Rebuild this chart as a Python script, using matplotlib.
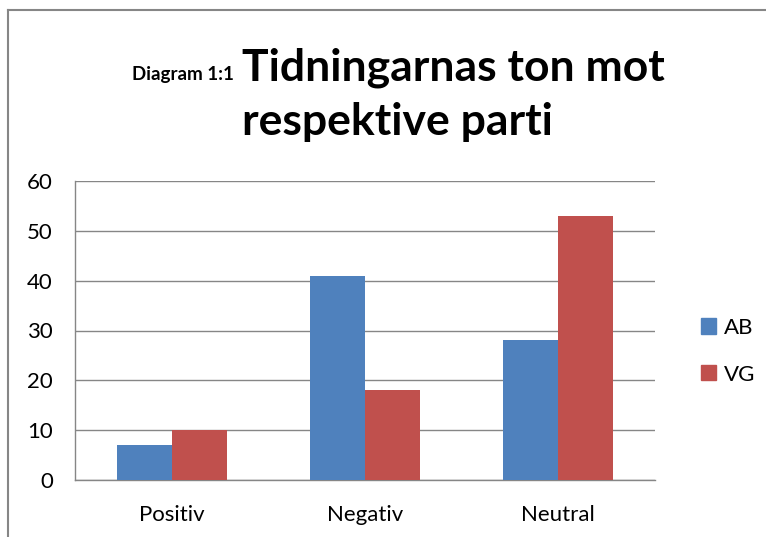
import numpy as np
import matplotlib
matplotlib.use("Agg")
import matplotlib.pyplot as plt
from matplotlib.lines import Line2D
from matplotlib.patches import Patch

plt.rcParams['font.family'] = ['Lato', 'DejaVu Sans']

# data
kategorier = ['Positiv', 'Negativ', 'Neutral']
ab = [7, 41, 28]
vg = [10, 18, 53]
serier = ['AB', 'VG']
farger = ['#4F81BD', '#C0504D']
yticks = [0, 10, 20, 30, 40, 50, 60]

W, H = 766, 537
fig = plt.figure(figsize=(W / 100, H / 100), dpi=100)
ax = fig.add_axes([75 / W, 1 - 480 / H, 580 / W, 299 / H])

x = np.arange(len(kategorier))
bw = 0.284
ax.bar(x - bw / 2, ab, bw, color=farger[0], zorder=3, label=serier[0])
ax.bar(x + bw / 2, vg, bw, color=farger[1], zorder=3, label=serier[1])

ax.set_xlim(-0.5, 2.5)
ax.set_ylim(0, 60)
ax.set_yticks(yticks)
ax.set_xticks(x)
ax.set_xticklabels(kategorier)
ax.yaxis.grid(True, color='#868686', lw=1)
ax.set_axisbelow(True)
for s in ['top', 'right']:
    ax.spines[s].set_visible(False)
for s in ['left', 'bottom']:
    ax.spines[s].set_color('#868686')
    ax.spines[s].set_linewidth(1)
ax.tick_params(length=0, labelsize=16, colors='black')
ax.tick_params(axis='y', pad=16)
ax.tick_params(axis='x', pad=18)

# legend
handles = [Patch(color=c) for c in farger]
fig.legend(handles, serier, loc='upper left', bbox_to_anchor=(692 / W, 1 - 309 / H),
           frameon=False, fontsize=16, handlelength=0.68, handleheight=0.68,
           handletextpad=0.35, labelspacing=1.2, borderaxespad=0)

# title
fig.text(234 / W, 1 - 80 / H, 'Diagram 1:1', ha='right', va='baseline',
         fontsize=13.5, fontweight='bold')
fig.text(242 / W, 1 - 80 / H, 'Tidningarnas ton mot', ha='left', va='baseline',
         fontsize=32, fontweight='bold')
fig.text(397 / W, 1 - 135 / H, 'respektive parti', ha='center', va='baseline',
         fontsize=32, fontweight='bold')

# chart frame (top and left edge)
fig.add_artist(Line2D([8 / W, 1], [1 - 10 / H, 1 - 10 / H], color='#868686', lw=1.5))
fig.add_artist(Line2D([8 / W, 8 / W], [0, 1 - 10 / H], color='#868686', lw=1.5))

fig.savefig('out.png', dpi=100)
